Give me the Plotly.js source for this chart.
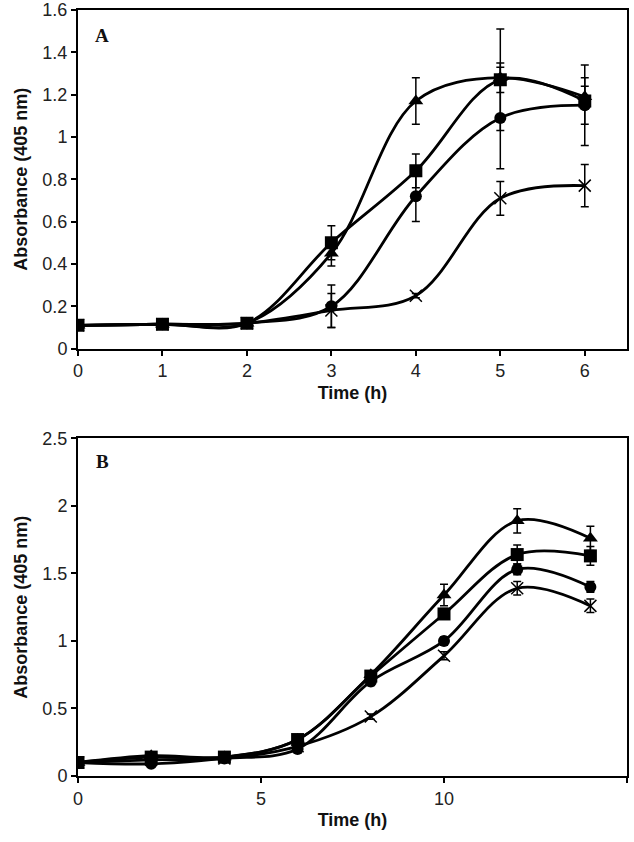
<!DOCTYPE html>
<html><head><meta charset="utf-8">
<script src="https://cdn.plot.ly/plotly-3.0.1.min.js"></script>
<style>body{margin:0;background:#fff}</style>
</head><body><div id="chart" style="width:634px;height:842px"></div>
<script>
// Panel A
const timeA = [0, 1, 2, 3, 4, 5, 6];
const triA = [0.11, 0.115, 0.12, 0.45, 1.17, 1.28, 1.19];
const triAErr = [0.01, 0.01, 0.01, 0.06, 0.11, 0.07, 0.05];
const sqA = [0.11, 0.115, 0.12, 0.50, 0.84, 1.27, 1.17];
const sqAErr = [0.01, 0.01, 0.01, 0.08, 0.08, 0.24, 0.11];
const ciA = [0.11, 0.115, 0.12, 0.20, 0.72, 1.09, 1.15];
const ciAErr = [0.01, 0.01, 0.01, 0.10, 0.12, 0.24, 0.19];
const xA = [0.11, 0.115, 0.12, 0.18, 0.25, 0.71, 0.77];
const xAErr = [0.01, 0.01, 0.01, 0.08, 0.01, 0.08, 0.10];
// Panel B
const timeB = [0, 2, 4, 6, 8, 10, 12, 14];
const triB = [0.10, 0.15, 0.14, 0.27, 0.75, 1.34, 1.89, 1.76];
const triBErr = [0.01, 0.01, 0.01, 0.02, 0.03, 0.08, 0.09, 0.09];
const sqB = [0.10, 0.14, 0.14, 0.27, 0.74, 1.20, 1.64, 1.63];
const sqBErr = [0.01, 0.01, 0.01, 0.02, 0.03, 0.04, 0.07, 0.07];
const ciB = [0.10, 0.09, 0.13, 0.20, 0.70, 1.00, 1.53, 1.40];
const ciBErr = [0.01, 0.01, 0.01, 0.02, 0.03, 0.03, 0.04, 0.04];
const xB = [0.10, 0.12, 0.13, 0.22, 0.44, 0.89, 1.39, 1.26];
const xBErr = [0.01, 0.01, 0.01, 0.02, 0.02, 0.03, 0.05, 0.05];

const ticksA_x = [0, 1, 2, 3, 4, 5, 6];
const ticksA_y = [0, 0.2, 0.4, 0.6, 0.8, 1, 1.2, 1.4, 1.6];
const ticksB_x = [0, 5, 10, 15];
const ticksB_y = [0, 0.5, 1, 1.5, 2, 2.5];

function tr(x, y, err, sym, size, xa, ya, open) {
  return {
    x: x, y: y, xaxis: xa, yaxis: ya, type: 'scatter', mode: 'lines+markers',
    line: {color: '#000', width: 2.8, shape: 'spline', smoothing: 1},
    marker: open ? {symbol: sym, size: size, color: '#000', line: {color: '#000', width: 1.5}}
                 : {symbol: sym, size: size, color: '#000'},
    error_y: {type: 'data', array: err, visible: true, color: '#000', thickness: 1.5, width: 4},
    showlegend: false, hoverinfo: 'skip'
  };
}

const data = [
  tr(timeA, xA, xAErr, 'x-thin-open', 12, 'x', 'y', true),
  tr(timeA, ciA, ciAErr, 'circle', 12, 'x', 'y'),
  tr(timeA, triA, triAErr, 'triangle-up', 13, 'x', 'y'),
  tr(timeA, sqA, sqAErr, 'square', 13, 'x', 'y'),
  tr(timeB, xB, xBErr, 'x-thin-open', 12, 'x2', 'y2', true),
  tr(timeB, ciB, ciBErr, 'circle', 12, 'x2', 'y2'),
  tr(timeB, triB, triBErr, 'triangle-up', 13, 'x2', 'y2'),
  tr(timeB, sqB, sqBErr, 'square', 13, 'x2', 'y2')
];

const tickFont = {family: 'Liberation Sans, Arial, sans-serif', size: 18, color: '#222'};
const titleFont = {family: 'Liberation Sans, Arial, sans-serif', size: 18, color: '#111', weight: 'bold'};

function xax(range, vals, anchor) {
  return {range: range, anchor: anchor, tickvals: vals, ticktext: vals.map(String),
    showline: true, linecolor: '#000', linewidth: 2, mirror: true,
    ticks: 'outside', ticklen: 5, tickwidth: 2, tickcolor: '#000',
    showgrid: false, zeroline: false, tickfont: tickFont,
    title: {text: 'Time (h)', font: titleFont, standoff: 6}};
}
function yax(range, vals, domain, anchor) {
  return {range: range, domain: domain, anchor: anchor, tickvals: vals, ticktext: vals.map(String),
    showline: true, linecolor: '#000', linewidth: 2, mirror: true,
    ticks: 'outside', ticklen: 5, tickwidth: 2, tickcolor: '#000',
    showgrid: false, zeroline: false, tickfont: tickFont,
    title: {text: 'Absorbance (405 nm)', font: titleFont, standoff: 10}};
}

const layout = {
  width: 634, height: 842,
  margin: {l: 78, r: 7, t: 10, b: 66},
  paper_bgcolor: '#fff', plot_bgcolor: '#fff',
  xaxis: xax([0, 6.5], ticksA_x, 'y'),
  yaxis: yax([0, 1.6], ticksA_y, [0.558, 1], 'x'),
  xaxis2: xax([0, 15], ticksB_x, 'y2'),
  yaxis2: yax([0, 2.5], ticksB_y, [0, 0.4407], 'x2'),
  annotations: [
    {text: 'A', xref: 'x domain', yref: 'y domain', x: 0.044, y: 0.926, showarrow: false,
     xanchor: 'center', yanchor: 'middle', font: {family: 'Liberation Serif, Times New Roman, serif', size: 19, color: '#111', weight: 'bold'}},
    {text: 'B', xref: 'x2 domain', yref: 'y2 domain', x: 0.044, y: 0.932, showarrow: false,
     xanchor: 'center', yanchor: 'middle', font: {family: 'Liberation Serif, Times New Roman, serif', size: 19, color: '#111', weight: 'bold'}}
  ]
};

Plotly.newPlot('chart', data, layout, {displayModeBar: false, staticPlot: true});
</script></body></html>
